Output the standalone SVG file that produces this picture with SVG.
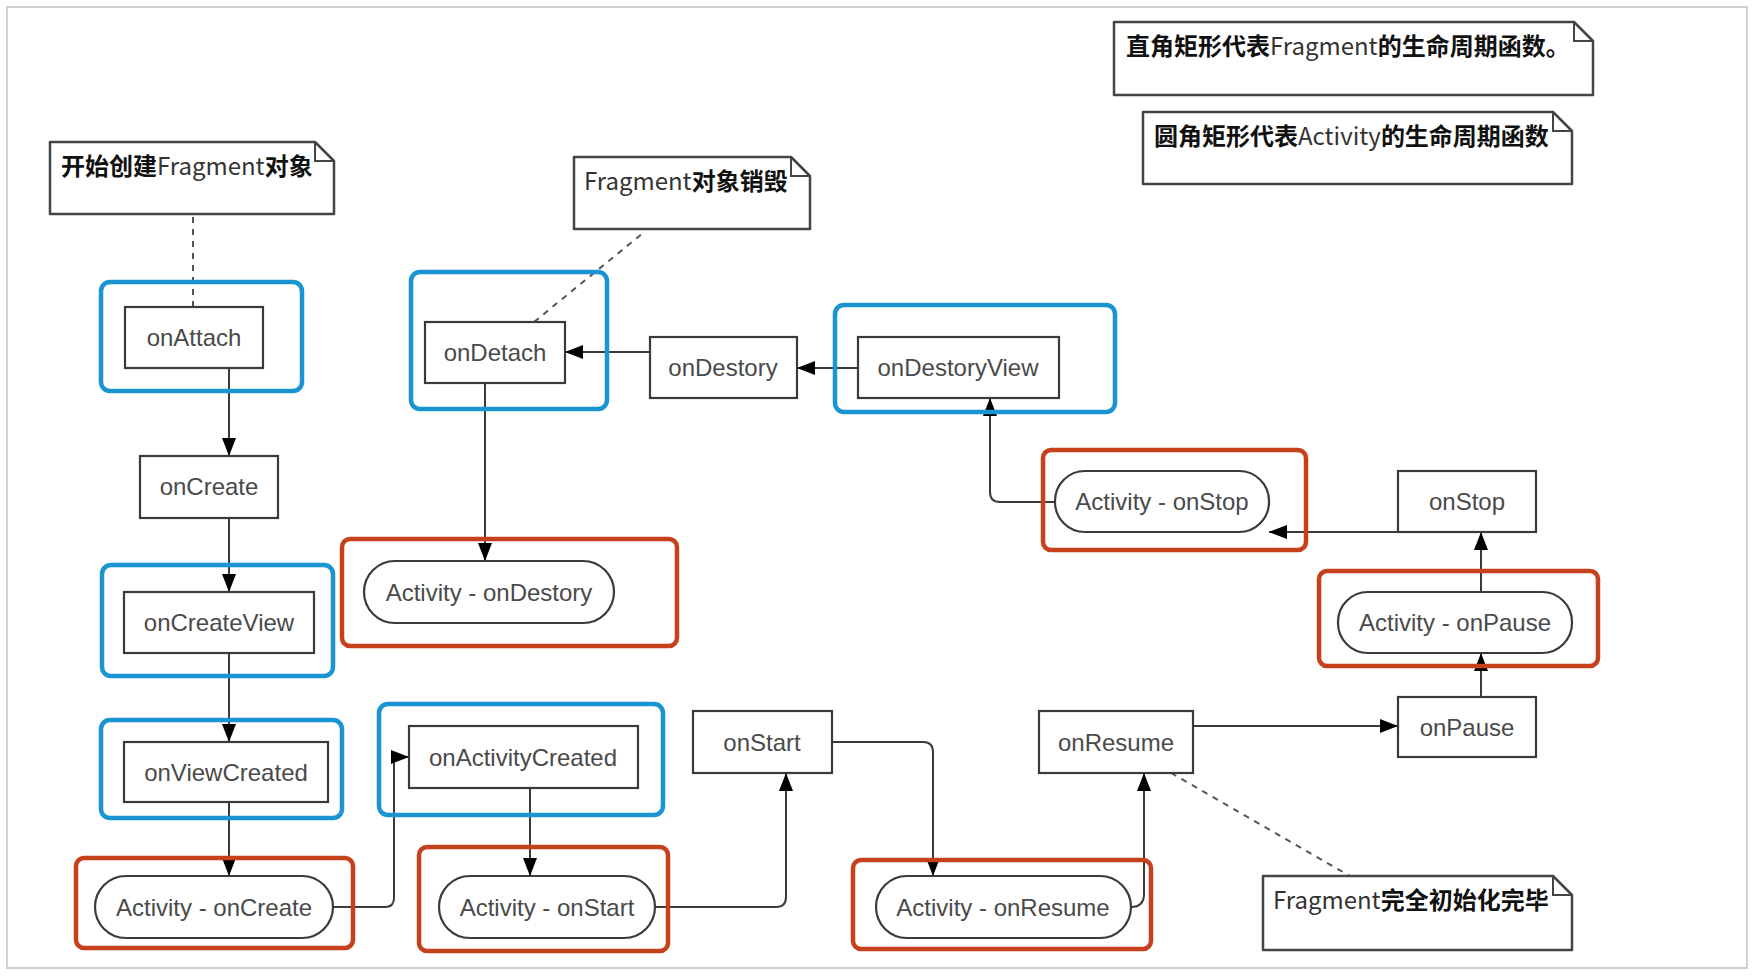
<svg xmlns="http://www.w3.org/2000/svg" width="1754" height="976" viewBox="0 0 1754 976">
<style>
.bg{fill:#fff}
.frame{fill:none;stroke:#cfcfcf;stroke-width:2}
.blue{fill:none;stroke:#1b95d1;stroke-width:4.5}
.red{fill:none;stroke:#c4411c;stroke-width:4.5}
.box{fill:#fff;stroke:#3a3a3a;stroke-width:2.2}
.lbl{font-family:"Liberation Sans",Arial,sans-serif;font-size:24px;fill:#4a4a4a;text-anchor:middle}
.note{fill:#fff;stroke:#444;stroke-width:2.5;stroke-linejoin:round}
.fold{fill:none;stroke:#444;stroke-width:2}
.nt{font-family:"Noto Sans CJK SC","Noto Sans",sans-serif;font-size:24px;fill:#111;font-weight:bold}
.nt tspan.l{font-weight:normal;fill:#333}
.edge{fill:none;stroke:#3a3a3a;stroke-width:2}
.dash{fill:none;stroke:#555;stroke-width:2;stroke-dasharray:6,6}
</style>
<defs>
<marker id="arr" markerUnits="userSpaceOnUse" markerWidth="18" markerHeight="14" refX="18" refY="7" orient="auto">
<path d="M0,0 L18,7 L0,14 Z" fill="#000"/>
</marker>
</defs>
<rect class="bg" x="0" y="0" width="1754" height="976"/>
<rect class="frame" x="7" y="7" width="1740" height="961"/>

<g id="connectors">
<path class="edge" marker-end="url(#arr)" d="M229,368 V456"/>
<path class="edge" marker-end="url(#arr)" d="M229,518 V592"/>
<path class="edge" marker-end="url(#arr)" d="M229,653 V742"/>
<path class="edge" marker-end="url(#arr)" d="M229,802 V876"/>
<path class="edge" marker-end="url(#arr)" d="M333,907 H385 Q394,907 394,898 V757 H409"/>
<path class="edge" marker-end="url(#arr)" d="M530,788 V876"/>
<path class="edge" marker-end="url(#arr)" d="M655,907 H776 Q786,907 786,897 V773"/>
<path class="edge" marker-end="url(#arr)" d="M832,742 H923 Q933,742 933,752 V876"/>
<path class="edge" marker-end="url(#arr)" d="M1131,907 Q1144,907 1144,894 V773"/>
<path class="edge" marker-end="url(#arr)" d="M1193,726 H1398"/>
<path class="edge" marker-end="url(#arr)" d="M1481,697 V653"/>
<path class="edge" marker-end="url(#arr)" d="M1481,592 V532"/>
<path class="edge" marker-end="url(#arr)" d="M1398,532 H1269"/>
<path class="edge" marker-end="url(#arr)" d="M1055,502 H1000 Q990,502 990,492 V398"/>
<path class="edge" marker-end="url(#arr)" d="M858,368 H797"/>
<path class="edge" marker-end="url(#arr)" d="M650,352 H565"/>
<path class="edge" marker-end="url(#arr)" d="M485,383 V561"/>
<path class="dash" d="M193,217 V307"/>
<path class="dash" d="M534,322 L643,233"/>
<path class="dash" d="M1171,773 L1350,876"/>
</g>

<g id="note-create">
<path class="note" d="M50,142 H315 L334,161 V214 H50 Z"/>
<path class="fold" d="M315,142 V161 H334"/>
<text class="nt" x="61" y="175">开始创建<tspan class="l">Fragment</tspan>对象</text>
</g>
<g id="note-destroy">
<path class="note" d="M574,157 H791 L810,176 V229 H574 Z"/>
<path class="fold" d="M791,157 V176 H810"/>
<text class="nt" x="584" y="190"><tspan class="l">Fragment</tspan>对象销毁</text>
</g>
<g id="note-legend-fragment">
<path class="note" d="M1114,22 H1574 L1593,41 V95 H1114 Z"/>
<path class="fold" d="M1574,22 V41 H1593"/>
<text class="nt" x="1126" y="55">直角矩形代表<tspan class="l">Fragment</tspan>的生命周期函数。</text>
</g>
<g id="note-legend-activity">
<path class="note" d="M1143,112 H1553 L1572,131 V184 H1143 Z"/>
<path class="fold" d="M1553,112 V131 H1572"/>
<text class="nt" x="1154" y="145">圆角矩形代表<tspan class="l">Activity</tspan>的生命周期函数</text>
</g>
<g id="note-ready">
<path class="note" d="M1263,876 H1553 L1572,895 V950 H1263 Z"/>
<path class="fold" d="M1553,876 V895 H1572"/>
<text class="nt" x="1273" y="909"><tspan class="l">Fragment</tspan>完全初始化完毕</text>
</g>

<g id="onAttach">
<rect class="blue" x="101" y="282" width="201" height="109" rx="9"/>
<rect class="box" x="125" y="307" width="138" height="61"/>
<text class="lbl" x="194" y="346">onAttach</text>
</g>
<g id="onCreate">
<rect class="box" x="140" y="456" width="138" height="62"/>
<text class="lbl" x="209" y="495">onCreate</text>
</g>
<g id="onCreateView">
<rect class="blue" x="102" y="565" width="231" height="111" rx="9"/>
<rect class="box" x="124" y="592" width="190" height="61"/>
<text class="lbl" x="219" y="631">onCreateView</text>
</g>
<g id="onViewCreated">
<rect class="blue" x="101" y="720" width="241" height="98" rx="9"/>
<rect class="box" x="124" y="742" width="204" height="60"/>
<text class="lbl" x="226" y="781">onViewCreated</text>
</g>
<g id="activity-onCreate">
<rect class="red" x="76" y="858" width="277" height="90" rx="8"/>
<rect class="box" x="95" y="876" width="238" height="62" rx="31"/>
<text class="lbl" x="214" y="916">Activity - onCreate</text>
</g>
<g id="onDetach">
<rect class="blue" x="411" y="272" width="196" height="137" rx="9"/>
<rect class="box" x="425" y="322" width="140" height="61"/>
<text class="lbl" x="495" y="361">onDetach</text>
</g>
<g id="activity-onDestory">
<rect class="red" x="342" y="539" width="335" height="107" rx="8"/>
<rect class="box" x="364" y="561" width="250" height="62" rx="31"/>
<text class="lbl" x="489" y="601">Activity - onDestory</text>
</g>
<g id="onDestory">
<rect class="box" x="650" y="337" width="147" height="61"/>
<text class="lbl" x="723" y="376">onDestory</text>
</g>
<g id="onDestoryView">
<rect class="blue" x="835" y="305" width="280" height="107" rx="9"/>
<rect class="box" x="858" y="337" width="201" height="61"/>
<text class="lbl" x="958" y="376">onDestoryView</text>
</g>
<g id="onActivityCreated">
<rect class="blue" x="379" y="704" width="284" height="111" rx="9"/>
<rect class="box" x="409" y="726" width="229" height="62"/>
<text class="lbl" x="523" y="766">onActivityCreated</text>
</g>
<g id="activity-onStart">
<rect class="red" x="419" y="847" width="249" height="104" rx="8"/>
<rect class="box" x="439" y="876" width="216" height="62" rx="31"/>
<text class="lbl" x="547" y="916">Activity - onStart</text>
</g>
<g id="onStart">
<rect class="box" x="693" y="711" width="139" height="62"/>
<text class="lbl" x="762" y="751">onStart</text>
</g>
<g id="activity-onResume">
<rect class="red" x="853" y="860" width="298" height="89" rx="8"/>
<rect class="box" x="876" y="876" width="255" height="62" rx="31"/>
<text class="lbl" x="1003" y="916">Activity - onResume</text>
</g>
<g id="onResume">
<rect class="box" x="1039" y="711" width="154" height="62"/>
<text class="lbl" x="1116" y="751">onResume</text>
</g>
<g id="onPause">
<rect class="box" x="1398" y="697" width="138" height="60"/>
<text class="lbl" x="1467" y="736">onPause</text>
</g>
<g id="activity-onPause">
<rect class="red" x="1319" y="571" width="279" height="95" rx="8"/>
<rect class="box" x="1338" y="592" width="234" height="61" rx="30"/>
<text class="lbl" x="1455" y="631">Activity - onPause</text>
</g>
<g id="onStop">
<rect class="box" x="1398" y="471" width="138" height="61"/>
<text class="lbl" x="1467" y="510">onStop</text>
</g>
<g id="activity-onStop">
<rect class="red" x="1043" y="450" width="263" height="100" rx="8"/>
<rect class="box" x="1055" y="471" width="214" height="61" rx="30"/>
<text class="lbl" x="1162" y="510">Activity - onStop</text>
</g>
</svg>
